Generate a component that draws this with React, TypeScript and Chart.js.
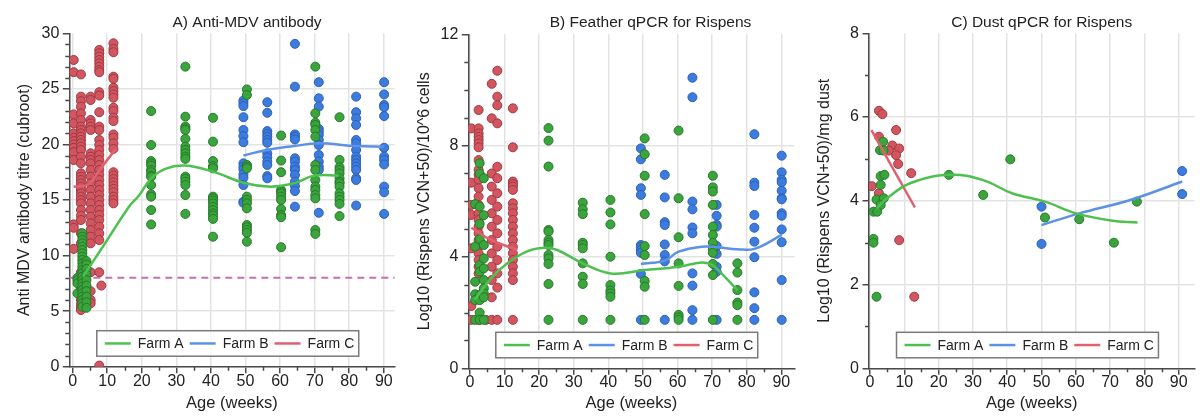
import React, { useEffect, useRef } from 'react';
import { Chart, registerables } from 'chart.js';

Chart.register(...registerables);

const FONT = "'Liberation Sans', Arial, Helvetica, sans-serif";

// ---------- tick labels ----------
const xTicks = [0, 10, 20, 30, 40, 50, 60, 70, 80, 90];
const abYTicks = [0, 5, 10, 15, 20, 25, 30];
const fthYTicks = [0, 4, 8, 12];
const dustYTicks = [0, 2, 4, 6, 8];
const farmLabels = ['Farm A', 'Farm B', 'Farm C'];
const antibodyCutoff = 8;

// ---------- A) Anti-MDV antibody ----------
const abAgesFarmA = [1.4, 2.8, 4.0, 22.7, 32.6, 40.6, 50.4, 60.3, 70.2, 77.2];
const abValsFarmA = [
  [8.0, 7.8, 7.5, 6.6],
  [12.0, 11.7, 11.4, 11.1, 10.8, 10.5, 10.2, 9.9, 9.6, 9.3, 9.0, 8.7, 8.4, 8.1, 7.8, 7.5, 7.2, 6.9, 6.6, 6.3, 6.0, 5.7, 5.4],
  [9.5, 9.2, 8.8, 8.3, 7.8, 7.3, 6.8, 6.3, 5.8, 5.3],
  [23.0, 19.95, 18.5, 18.3, 18.1, 17.7, 17.5, 17.2, 17.1, 16.35, 15.5, 15.3, 14.1, 12.8],
  [27.0, 22.5, 21.6, 21.45, 21.3, 20.5, 19.8, 19.5, 19.2, 18.9, 18.7, 17.1, 16.9, 16.65, 16.35, 15.45, 13.75],
  [22.4, 20.25, 18.5, 18.05, 17.85, 15.3, 15.15, 14.95, 14.7, 14.4, 14.1, 13.8, 13.6, 13.3, 11.7],
  [24.95, 24.45, 18.15, 18.0, 17.85, 15.3, 15.0, 14.7, 14.25, 12.75, 12.55, 12.3, 12.05, 11.25],
  [20.8, 18.55, 17.5, 15.9, 15.75, 15.6, 15.3, 15.0, 14.2, 13.65, 13.45, 10.75],
  [27.0, 22.8, 21.95, 21.75, 21.3, 20.7, 18.15, 17.7, 16.8, 16.2, 15.9, 15.45, 15.15, 12.3, 11.95],
  [22.45, 18.6, 17.95, 17.7, 17.4, 16.95, 16.65, 16.5, 16.2, 15.6, 15.3, 15.0, 14.65, 13.55],
];
const abAgesFarmB = [49.4, 56.3, 64.3, 71.2, 82.0, 90.1];
const abValsFarmB = [
  [23.95, 23.7, 23.45, 22.45, 21.3, 20.75, 20.2, 18.3, 18.0, 17.75, 17.3, 17.0, 16.35, 14.85, 14.75],
  [23.8, 22.85, 21.2, 20.95, 20.7, 20.4, 20.15, 19.2, 18.85, 18.45, 18.15, 17.15, 16.95],
  [29.05, 25.2, 20.9, 20.7, 20.45, 18.75, 18.45, 18.0, 17.7, 17.25, 16.65, 16.25, 15.8, 14.4],
  [25.6, 24.15, 23.4, 21.4, 21.15, 20.85, 20.4, 19.95, 19.05, 18.45, 18.0, 17.7, 13.85],
  [24.3, 22.9, 22.35, 21.75, 20.4, 20.1, 19.5, 18.9, 18.6, 18.3, 18.0, 17.7, 16.95, 16.8, 14.5],
  [25.6, 24.5, 23.55, 23.35, 22.55, 19.7, 18.9, 18.6, 18.2, 16.2, 15.7, 13.75],
];
const abAgesFarmC = [0.3, 2.4, 5.2, 7.7, 8.3, 11.8];
const abValsFarmC = [
  [27.6, 26.5, 22.7, 21.9, 21.0, 20.6, 20.3, 20.0, 19.7, 19.3, 18.6, 12.8, 12.5, 10.6],
  [26.3, 24.3, 23.9, 23.4, 22.8, 22.2, 21.6, 21.3, 21.0, 20.7, 20.4, 20.1, 19.8, 19.5, 18.9, 18.3, 17.4, 17.1, 16.8, 16.5, 16.2, 15.9, 15.6, 15.3, 15.0, 14.7, 14.1, 13.6, 13.2, 12.0, 11.1, 8.5, 8.2, 7.0, 6.5, 6.0, 5.6, 5.3, 5.1],
  [24.3, 24.0, 22.2, 21.9, 21.6, 21.3, 19.2, 18.9, 18.6, 18.3, 17.7, 17.1, 16.5, 15.9, 15.3, 14.7, 14.1, 13.5, 12.9, 12.3, 11.7, 11.1, 8.5, 6.8, 6.0, 5.7],
  [28.5, 28.2, 27.9, 27.6, 27.3, 27.0, 26.7, 26.5, 24.7, 24.4, 22.9, 21.6, 21.3, 20.4, 19.95, 19.5, 19.05, 18.6, 18.15, 17.7, 17.25, 16.8, 16.35, 15.9, 15.45, 15.0, 14.55, 14.1, 13.65, 13.2, 12.6, 12.0, 11.4, 8.5, 0.1],
  [7.3],
  [29.1, 28.6, 28.3, 26.1, 25.9, 25.1, 24.8, 24.5, 24.2, 23.3, 23.0, 22.4, 22.1, 20.9, 20.6, 20.1, 19.6, 17.5, 17.2, 16.9, 16.6, 16.3, 16.0, 15.7, 15.3, 15.0, 14.7],
];
const abFitAgesA = [3, 10, 16.3, 19.2, 22.6, 26.8, 32.5, 40.5, 50, 57.2, 63.9, 70, 77];
const abFitValsA = [8.1, 11.4, 14.4, 15.4, 16.9, 17.8, 18.1, 17.55, 16.5, 16.2, 16.5, 17.2, 17.2];
const abFitAgesB = [49.4, 56, 64, 71, 82, 90.1];
const abFitValsB = [19.0, 19.5, 19.85, 20.1, 19.85, 19.8];
const abFitAgesC = [0.3, 4.5, 8, 12.5];
const abFitValsC = [16.2, 16.4, 17.8, 19.6];

// ---------- B) Feather qPCR ----------
const fthAgesFarmA = [1.5, 2.8, 4.0, 22.7, 32.6, 40.6, 50.5, 60.3, 70.2, 77.3];
const fthValsFarmA = [
  [5.9, 4.37, 3.11, 2.66, 2.45, 1.74],
  [7.37, 7.0, 5.81, 5.19, 4.64, 3.71, 3.47, 2.63, 2.45, 2.0, 1.74],
  [6.83, 5.5, 4.43, 3.95, 3.59, 3.17, 2.87, 2.69, 2.55, 1.74],
  [8.63, 8.18, 7.25, 4.97, 4.91, 4.61, 4.51, 4.43, 4.07, 3.95, 3.75, 3.03, 1.74],
  [5.95, 5.71, 5.54, 4.51, 4.43, 4.31, 3.77, 3.29, 3.03, 1.74],
  [6.05, 5.6, 5.17, 4.01, 2.99, 2.79, 2.69, 2.57, 1.74],
  [8.26, 7.69, 6.92, 5.54, 4.39, 4.07, 3.14, 2.93, 1.74],
  [8.54, 6.11, 4.71, 3.77, 2.96, 1.92, 1.83, 1.74],
  [6.92, 6.5, 6.35, 5.87, 5.09, 4.79, 4.51, 4.28, 4.15, 3.75, 3.35, 1.74],
  [3.77, 3.44, 2.81, 2.36, 2.27, 1.74],
];
const fthAgesFarmB = [49.4, 56.3, 64.3, 71.3, 82.2, 90.1];
const fthValsFarmB = [
  [7.9, 7.51, 6.47, 6.23, 4.43, 4.35, 4.25, 4.15, 3.39, 1.74],
  [6.95, 6.14, 5.25, 5.15, 4.45, 4.07, 3.84, 1.74],
  [10.44, 9.74, 5.99, 5.71, 5.06, 4.85, 3.41, 2.97, 2.09, 1.74],
  [5.87, 5.48, 5.15, 5.09, 4.39, 4.11, 3.65, 3.47, 1.74],
  [8.41, 6.67, 6.55, 5.51, 5.05, 4.55, 3.99, 2.73, 2.16, 1.74],
  [7.64, 7.04, 6.77, 6.68, 6.38, 6.11, 6.07, 5.57, 5.48, 4.99, 4.53, 3.17, 1.74],
];
const fthAgesFarmC = [0.4, 2.5, 4.6, 6.3, 7.9, 12.4];
const fthValsFarmC = [
  [8.62, 6.67, 5.87, 5.51, 4.31, 2.24, 1.74],
  [9.28, 8.62, 8.44, 8.32, 8.2, 8.08, 7.94, 7.48, 7.13, 6.95, 6.77, 6.47, 6.17, 5.87, 5.57, 5.33, 5.09, 4.85, 4.61, 4.37, 4.13, 3.89, 3.65, 3.41, 1.74],
  [1.74],
  [10.22, 8.98, 7.0, 6.53, 6.05, 5.57, 5.09, 4.61, 4.13, 3.65, 3.17, 2.55, 1.74],
  [10.69, 9.76, 9.45, 8.8, 7.24, 6.83, 6.29, 5.81, 5.33, 4.85, 4.37, 3.89, 3.41, 2.9, 1.74],
  [9.34, 7.94, 6.71, 6.62, 6.53, 6.41, 5.93, 5.75, 5.57, 5.33, 5.09, 4.85, 4.61, 4.37, 4.13, 3.89, 3.65, 3.41, 3.17, 1.74],
];
const fthFitAgesA = [1.3, 6.1, 10.8, 16.5, 21.4, 25.2, 32.6, 40.6, 50.5, 60.3, 67, 70.2, 73.6, 77.3];
const fthFitValsA = [2.45, 3.23, 3.77, 4.2, 4.33, 4.25, 3.77, 3.41, 3.53, 3.65, 3.8, 3.7, 3.29, 2.81];
const fthFitAgesB = [49.4, 56.3, 60.3, 67, 71.3, 77.3, 82.2, 90.1];
const fthFitValsB = [3.75, 3.87, 4.19, 4.37, 4.35, 4.28, 4.29, 4.79];
const fthFitAgesC = [0.4, 6.1, 13.7];
const fthFitValsC = [5.05, 4.61, 4.25];

// ---------- C) Dust qPCR ----------
const dustAgesFarmA = [3.8, 2.9, 3.9, 3.1, 4.2, 3.1, 1.9, 4.0, 3.1, 1.0, 2.1, 1.0, 1.0, 1.9, 23, 33, 40.9, 51, 61, 71.1, 77.8];
const dustValsFarmA = [5.41, 5.21, 5.2, 4.59, 4.62, 4.38, 4.03, 4.06, 3.9, 3.74, 3.74, 3.09, 3.0, 1.71, 4.62, 4.14, 4.99, 3.6, 3.56, 3.0, 3.98];
const dustAgesFarmB = [50, 50, 91, 91];
const dustValsFarmB = [3.86, 2.97, 4.71, 4.16];
const dustAgesFarmC = [2.6, 3.6, 2.6, 7.6, 6.5, 5.5, 8.5, 7.6, 8.2, 12.0, 0.5, 2.6, 8.5, 12.9];
const dustValsFarmC = [6.15, 6.07, 5.53, 5.69, 5.32, 5.2, 5.25, 5.09, 4.88, 4.66, 4.35, 4.18, 3.06, 1.71];
const dustFitAgesA = [2, 4.5, 11.7, 23.2, 32.8, 41.4, 51, 60.1, 70.2, 78];
const dustFitValsA = [3.82, 4.03, 4.42, 4.62, 4.5, 4.18, 3.98, 3.7, 3.53, 3.48];
const dustFitAgesB = [50, 61, 75.9, 91];
const dustFitValsB = [3.42, 3.7, 4.02, 4.46];
const dustFitAgesC = [0.4, 13.1];
const dustFitValsC = [5.69, 3.84];

// ---------- styles ----------
const pointFill = ['rgb(58,165,60)', 'rgb(60,124,220)', 'rgb(210,86,96)'];
const pointEdge = ['rgb(38,120,40)', 'rgb(45,95,185)', 'rgb(160,55,65)'];
const lineColors = ['rgb(78,192,80)', 'rgb(92,146,230)', 'rgb(226,96,112)'];

type XY = { x: number; y: number };
const fromColumns = (ages: number[], vals: number[][]): XY[] =>
  ages.flatMap((a, i) => vals[i].map((v) => ({ x: a, y: v })));
const fromPairs = (ages: number[], vals: number[]): XY[] => ages.map((a, i) => ({ x: a, y: vals[i] }));

const panels = [
  {
    title: 'A) Anti-MDV antibody',
    yTitle: 'Anti MDV antibody titre (cubroot)',
    yTicks: abYTicks,
    points: [fromColumns(abAgesFarmA, abValsFarmA), fromColumns(abAgesFarmB, abValsFarmB), fromColumns(abAgesFarmC, abValsFarmC)],
    fits: [fromPairs(abFitAgesA, abFitValsA), fromPairs(abFitAgesB, abFitValsB), fromPairs(abFitAgesC, abFitValsC)],
    cutoff: antibodyCutoff,
    left: 69.3, top: 33.3, bottom: 366.7, xMin: -0.97, xMax: 93.1, titleX: 247,
  },
  {
    title: 'B) Feather qPCR for Rispens',
    yTitle: 'Log10 (Rispens VCN+50)/10^6 cells',
    yTicks: fthYTicks,
    points: [fromColumns(fthAgesFarmA, fthValsFarmA), fromColumns(fthAgesFarmB, fthValsFarmB), fromColumns(fthAgesFarmC, fthValsFarmC)],
    fits: [fromPairs(fthFitAgesA, fthFitValsA), fromPairs(fthFitAgesB, fthFitValsB), fromPairs(fthFitAgesC, fthFitValsC)],
    cutoff: null,
    left: 68.3, top: 34.3, bottom: 368.3, xMin: -0.48, xMax: 93.8, titleX: 250.5,
  },
  {
    title: 'C) Dust qPCR for Rispens',
    yTitle: 'Log10 (Rispens VCN+50)/mg dust',
    yTicks: dustYTicks,
    points: [fromPairs(dustAgesFarmA, dustValsFarmA), fromPairs(dustAgesFarmB, dustValsFarmB), fromPairs(dustAgesFarmC, dustValsFarmC)],
    fits: [fromPairs(dustFitAgesA, dustFitValsA), fromPairs(dustFitAgesB, dustFitValsB), fromPairs(dustFitAgesC, dustFitValsC)],
    cutoff: null,
    left: 69, top: 33.3, bottom: 368.3, xMin: -0.3, xMax: 94.6, titleX: 241.7,
  },
];

const AXIS = '#4a4a4a';
const GRID = '#e3e3e3';
const TEXT = '#222';

const decorPlugin = {
  id: 'panelDecor',
  beforeDatasetsDraw(chart: any, _a: any, opts: any) {
    const ctx = chart.ctx;
    const ca = chart.chartArea;
    if (opts.cutoff != null) {
      const y = chart.scales.y.getPixelForValue(opts.cutoff);
      ctx.save();
      ctx.setLineDash([7, 5]);
      ctx.strokeStyle = 'rgb(200,112,172)';
      ctx.lineWidth = 2;
      ctx.beginPath();
      ctx.moveTo(ca.left, y);
      ctx.lineTo(ca.right, y);
      ctx.stroke();
      ctx.restore();
    }
  },
  afterDraw(chart: any, _a: any, opts: any) {
    const ctx = chart.ctx;
    const ca = chart.chartArea;
    const xs = chart.scales.x;
    const ys = chart.scales.y;
    ctx.save();
    // minor ticks
    ctx.strokeStyle = AXIS;
    ctx.lineWidth = 1.5;
    ctx.beginPath();
    const yStep = opts.yTicks[1] - opts.yTicks[0];
    for (let v = ys.min; v <= ys.max; v += 1) {
      if (v % yStep === 0) continue;
      const p = Math.round(ys.getPixelForValue(v)) + 0.5;
      ctx.moveTo(ca.left - 4, p);
      ctx.lineTo(ca.left, p);
    }
    for (let v = 5; v <= xs.max; v += 10) {
      const p = Math.round(xs.getPixelForValue(v)) + 0.5;
      ctx.moveTo(p, ca.bottom);
      ctx.lineTo(p, ca.bottom + 4);
    }
    ctx.stroke();
    // title
    ctx.fillStyle = TEXT;
    ctx.font = `15.5px ${FONT}`;
    ctx.textAlign = 'center';
    ctx.textBaseline = 'alphabetic';
    ctx.fillText(opts.title, opts.titleX, 26.5);
    // legend
    ctx.font = `14px ${FONT}`;
    const bh = 25.5;
    const bx = ca.left + 27.5;
    const by = ca.bottom - 10.5 - bh;
    const items = chart.data.datasets.filter((d: any) => d.showLine);
    let w = 8;
    items.forEach((d: any, i: number) => {
      w += 26 + 7 + ctx.measureText(d.label).width + (i < items.length - 1 ? 6 : 4.5);
    });
    ctx.fillStyle = 'rgba(255,255,255,0.85)';
    ctx.fillRect(bx, by, w, bh);
    ctx.strokeStyle = '#7a7a7a';
    ctx.lineWidth = 1.5;
    ctx.strokeRect(bx, by, w, bh);
    const cy = by + bh / 2;
    let x = bx + 8;
    ctx.textAlign = 'left';
    ctx.textBaseline = 'middle';
    items.forEach((d: any) => {
      ctx.strokeStyle = d.borderColor;
      ctx.lineWidth = 2.5;
      ctx.beginPath();
      ctx.moveTo(x, cy);
      ctx.lineTo(x + 26, cy);
      ctx.stroke();
      x += 33;
      ctx.fillStyle = TEXT;
      ctx.fillText(d.label, x, cy + 1);
      x += ctx.measureText(d.label).width + 6;
    });
    ctx.restore();
  },
};

function Panel({ cfg }: { cfg: (typeof panels)[number] }) {
  const ref = useRef<HTMLCanvasElement>(null);
  useEffect(() => {
    const yMax = cfg.yTicks[cfg.yTicks.length - 1];
    const fitSets = cfg.fits.map((data, i) => ({
      type: 'line' as const,
      label: farmLabels[i],
      data,
      showLine: true,
      borderColor: lineColors[i],
      borderWidth: 2.5,
      pointRadius: 0,
      tension: 0.4,
      fill: false,
      order: 0,
    }));
    const pointSets = cfg.points.map((data, i) => ({
      type: 'scatter' as const,
      label: farmLabels[i] + ' points',
      data,
      showLine: false,
      backgroundColor: pointFill[i],
      borderColor: pointEdge[i],
      borderWidth: 1,
      pointRadius: 4.5,
      order: i === 0 ? 1 : i === 1 ? 2 : 3,
    }));
    const chart = new Chart(ref.current as HTMLCanvasElement, {
      type: 'scatter',
      data: { datasets: [...fitSets, ...pointSets] as any },
      plugins: [decorPlugin as any],
      options: {
        animation: false,
        responsive: false,
        events: [],
        layout: { padding: { top: cfg.top, right: 1, left: 0, bottom: 0 } },
        plugins: {
          legend: { display: false },
          tooltip: { enabled: false },
          title: { display: false },
          panelDecor: { cutoff: cfg.cutoff, title: cfg.title, titleX: cfg.titleX, yTicks: cfg.yTicks },
        } as any,
        scales: {
          x: {
            type: 'linear',
            min: cfg.xMin,
            max: cfg.xMax,
            afterBuildTicks: (s: any) => {
              s.ticks = xTicks.map((v) => ({ value: v }));
            },
            afterFit: (s: any) => {
              s.height = 417 - cfg.bottom;
            },
            grid: { color: GRID, lineWidth: 1.5, tickColor: AXIS, tickLength: 6.5, tickWidth: 1.5 },
            border: { color: AXIS, width: 1.5 },
            ticks: { font: { family: FONT, size: 16, lineHeight: 1 }, color: TEXT, padding: 0, maxRotation: 0 },
            title: { display: true, text: 'Age (weeks)', font: { family: FONT, size: 16.5, lineHeight: 1.2 }, color: TEXT, padding: { top: 0, bottom: 4 } },
          },
          y: {
            type: 'linear',
            min: 0,
            max: yMax,
            afterBuildTicks: (s: any) => {
              s.ticks = cfg.yTicks.map((v) => ({ value: v }));
            },
            afterFit: (s: any) => {
              s.width = cfg.left;
            },
            grid: {
              color: (c: any) => (c.tick && c.tick.value === yMax ? 'rgba(0,0,0,0)' : GRID),
              lineWidth: 1.5,
              tickColor: AXIS,
              tickLength: 6.5,
              tickWidth: 1.5,
            },
            border: { color: AXIS, width: 1.5 },
            ticks: { font: { family: FONT, size: 16 }, color: TEXT, padding: 3.5 },
            title: { display: true, text: cfg.yTitle, font: { family: FONT, size: 16, lineHeight: 1.2 }, color: TEXT, padding: { top: 15, bottom: 0 } },
          },
        },
      } as any,
    });
    return () => chart.destroy();
  }, [cfg]);
  return <canvas ref={ref} width={400} height={417} style={{ display: 'block', width: 400, height: 417 }} />;
}

export default function App() {
  return (
    <div style={{ position: 'absolute', left: 0, top: 0, width: 1200, height: 417, display: 'flex', background: '#fff' }}>
      {panels.map((p) => (
        <Panel key={p.title} cfg={p} />
      ))}
    </div>
  );
}
